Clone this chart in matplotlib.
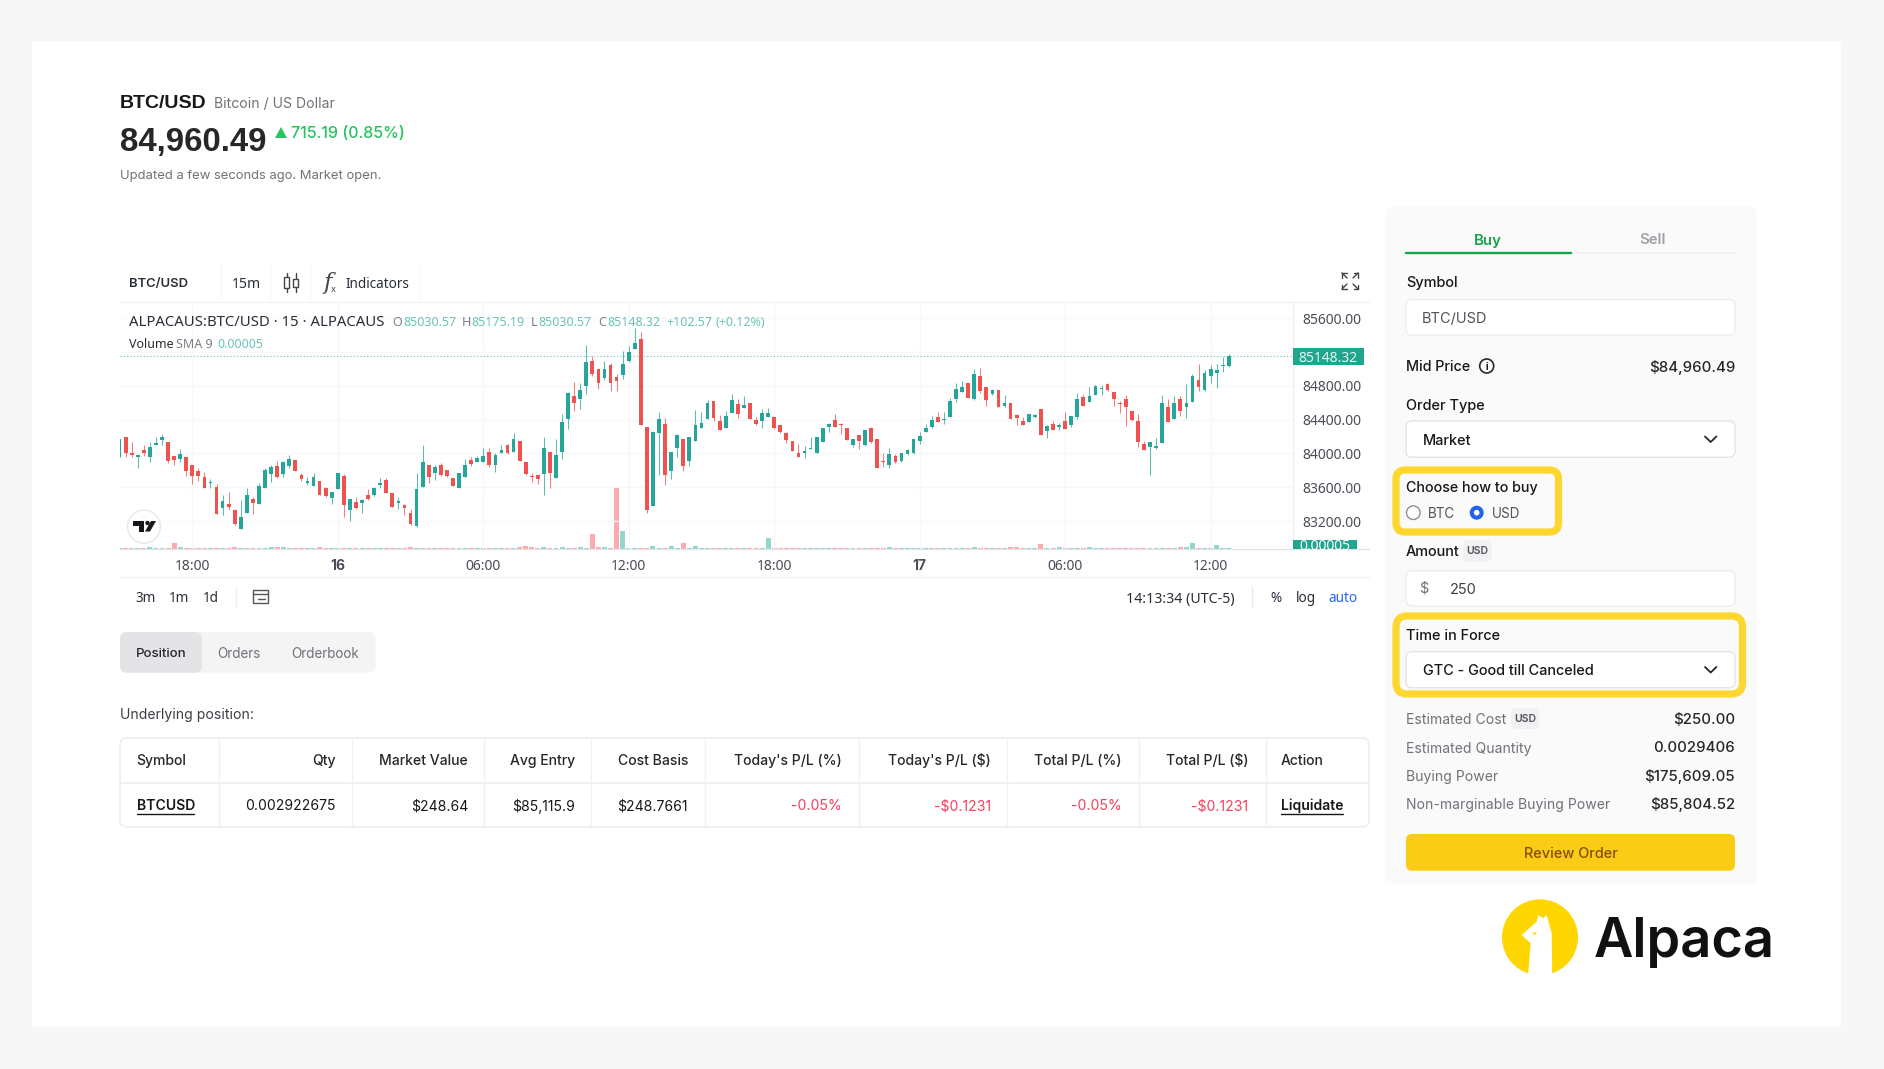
"""Alpaca BTC/USD trading screen: candle chart plus order panel."""
import matplotlib
matplotlib.use("Agg")
import matplotlib.pyplot as plt
from matplotlib.patches import Circle, FancyBboxPatch, Polygon, Rectangle
from matplotlib.transforms import blended_transform_factory

W, H = 1884, 1069

# 15 minute candles
opens = [
    83961, 84190, 84000, 83961, 84044, 83953, 84095, 84158, 84130, 83969,
    83933, 83957, 83862, 83787, 83720, 83649, 83606, 83349, 83401, 83330,
    83109, 83290, 83460, 83401, 83590, 83752, 83854, 83760, 83854, 83921,
    83748, 83653, 83618, 83673, 83586, 83476, 83582, 83732, 83334, 83425,
    83417, 83507, 83503, 83629, 83685, 83527, 83417, 83389, 83290, 83140,
    83606, 83862, 83772, 83862, 83803, 83708, 83586, 83724, 83921, 83902,
    83894, 84016, 83862, 84008, 84095, 84016, 84142, 83894, 83736, 83744,
    83752, 84016, 83704, 84016, 84403, 84675, 84643, 84793, 85097, 84994,
    84896, 85050, 84904, 84927, 85089, 85239, 85353, 84312, 83377, 84245,
    84351, 83795, 84063, 84174, 83910, 84150, 84304, 84411, 84620, 84383,
    84304, 84478, 84584, 84537, 84592, 84391, 84383, 84430, 84430, 84332,
    84237, 84142, 84004, 84008, 84052, 84008, 84134, 84316, 84399, 84347,
    84304, 84099, 84217, 84095, 84304, 84170, 83906, 83866, 83969, 83906,
    83988, 84000, 84142, 84257, 84308, 84426, 84399, 84430, 84639, 84726,
    84829, 84639, 84912, 84789, 84699, 84750, 84557, 84600, 84454, 84387,
    84375, 84426, 84521, 84269, 84347, 84312, 84387, 84336, 84430, 84663,
    84612, 84691, 84766, 84817, 84722, 84600, 84639, 84501, 84379, 84111,
    84079, 84063, 84126, 84553, 84411, 84647, 84545, 84612, 84868, 84750,
    84915, 84947, 85030, 85030.57,
]
highs = [
    84166, 84190, 84130, 83980, 84095, 84130, 84198, 84225, 84130, 83969,
    84052, 83957, 83862, 83823, 83783, 83697, 83637, 83507, 83547, 83330,
    83444, 83586, 83480, 83645, 83823, 83862, 83913, 83906, 83980, 83921,
    83772, 83724, 83772, 83673, 83598, 83547, 83764, 83756, 83460, 83480,
    83456, 83574, 83598, 83708, 83712, 83527, 83480, 83401, 83342, 83764,
    84099, 83862, 83862, 83882, 83803, 83708, 83768, 83929, 83953, 83969,
    84059, 84067, 84008, 84103, 84111, 84237, 84142, 83894, 83772, 83744,
    84198, 84016, 84166, 84466, 84726, 84848, 84829, 85282, 85152, 84994,
    85089, 85073, 84943, 85215, 85275, 85484, 85432, 84312, 84253, 84490,
    84418, 84016, 84229, 84174, 84190, 84513, 84490, 84632, 84620, 84454,
    84505, 84702, 84647, 84679, 84592, 84426, 84529, 84537, 84430, 84332,
    84253, 84142, 84115, 84087, 84198, 84198, 84296, 84359, 84466, 84363,
    84304, 84166, 84217, 84272, 84312, 84170, 84000, 84059, 83992, 84008,
    84052, 84170, 84253, 84347, 84438, 84493, 84490, 84651, 84837, 84856,
    84829, 84994, 85010, 84789, 84758, 84750, 84687, 84600, 84466, 84434,
    84462, 84462, 84521, 84332, 84387, 84363, 84493, 84438, 84710, 84699,
    84789, 84805, 84805, 84829, 84722, 84616, 84695, 84501, 84466, 84142,
    84134, 84182, 84687, 84647, 84679, 84679, 84817, 84939, 85058, 84987,
    85046, 85058, 85144, 85175.19,
]
lows = [
    83961, 83961, 83961, 83831, 83969, 83894, 84095, 84095, 83882, 83862,
    83894, 83736, 83637, 83673, 83590, 83594, 83282, 83271, 83330, 83152,
    83109, 83290, 83282, 83401, 83590, 83665, 83704, 83720, 83823, 83787,
    83677, 83625, 83614, 83507, 83488, 83401, 83574, 83243, 83203, 83342,
    83290, 83448, 83499, 83594, 83527, 83361, 83338, 83271, 83152, 83132,
    83606, 83653, 83685, 83736, 83724, 83614, 83586, 83724, 83854, 83898,
    83894, 83842, 83779, 84004, 83992, 84016, 83910, 83744, 83661, 83634,
    83503, 83594, 83704, 83933, 84292, 84505, 84525, 84706, 84915, 84762,
    84868, 84734, 84734, 84876, 85081, 85239, 84336, 83298, 83377, 83748,
    83626, 83700, 83953, 83791, 83854, 84150, 84296, 84407, 84387, 84277,
    84300, 84474, 84418, 84533, 84403, 84340, 84296, 84426, 84292, 84245,
    84126, 84028, 83953, 83941, 84048, 84004, 84130, 84257, 84308, 84229,
    84158, 84079, 84055, 84091, 84126, 83831, 83835, 83831, 83890, 83902,
    83984, 83996, 84111, 84253, 84304, 84371, 84347, 84426, 84612, 84722,
    84655, 84635, 84714, 84560, 84695, 84553, 84553, 84403, 84336, 84336,
    84371, 84422, 84217, 84182, 84277, 84280, 84284, 84312, 84403, 84557,
    84608, 84687, 84687, 84742, 84560, 84482, 84324, 84387, 84079, 84040,
    83740, 84052, 84126, 84371, 84407, 84442, 84418, 84608, 84742, 84742,
    84829, 84773, 84967, 85022,
]
closes = [
    84166, 84008, 83976, 83980, 84000, 84071, 84119, 84198, 83906, 83921,
    83988, 83795, 83736, 83736, 83590, 83661, 83282, 83440, 83365, 83164,
    83247, 83507, 83417, 83614, 83803, 83835, 83720, 83898, 83929, 83791,
    83693, 83669, 83720, 83511, 83492, 83547, 83764, 83389, 83460, 83349,
    83448, 83456, 83594, 83649, 83535, 83361, 83440, 83349, 83164, 83578,
    83894, 83720, 83835, 83744, 83736, 83618, 83768, 83862, 83874, 83941,
    83969, 83862, 83980, 84036, 84000, 84166, 83914, 83752, 83724, 83701,
    84063, 83764, 83980, 84371, 84718, 84592, 84746, 85077, 84939, 84833,
    85002, 84833, 84852, 85058, 85203, 85306, 84336, 83330, 84253, 84407,
    83740, 84016, 84217, 83854, 84190, 84332, 84359, 84600, 84418, 84280,
    84438, 84632, 84466, 84568, 84403, 84344, 84474, 84474, 84296, 84249,
    84158, 84032, 83961, 84028, 84063, 84190, 84296, 84351, 84312, 84332,
    84162, 84166, 84142, 84272, 84138, 83831, 83898, 83996, 83894, 84000,
    84040, 84170, 84205, 84300, 84391, 84375, 84407, 84616, 84762, 84789,
    84659, 84935, 84738, 84632, 84750, 84553, 84600, 84411, 84418, 84340,
    84462, 84454, 84221, 84328, 84280, 84340, 84288, 84438, 84639, 84560,
    84683, 84801, 84773, 84746, 84639, 84588, 84545, 84399, 84134, 84044,
    84130, 84083, 84592, 84375, 84600, 84497, 84592, 84915, 84789, 84955,
    85002, 84983, 85042, 85148.32,
]
# volume in units of 0.00001 BTC
volumes = [
    6, 6, 6, 6, 6, 10, 6, 6, 6, 38,
    10, 6, 6, 6, 6, 6, 6, 6, 6, 10,
    6, 6, 6, 6, 6, 10, 10, 10, 6, 6,
    6, 8, 6, 14, 6, 6, 8, 6, 6, 6,
    6, 6, 6, 6, 6, 6, 8, 6, 14, 6,
    8, 6, 6, 6, 6, 6, 6, 6, 6, 6,
    6, 6, 6, 6, 6, 6, 12, 16, 10, 6,
    10, 6, 6, 14, 6, 6, 12, 6, 88, 10,
    14, 6, 370, 108, 6, 6, 6, 6, 16, 6,
    8, 18, 6, 34, 6, 18, 6, 6, 6, 6,
    6, 6, 6, 6, 6, 6, 6, 68, 6, 6,
    6, 6, 6, 6, 6, 6, 6, 6, 6, 6,
    6, 6, 6, 6, 6, 6, 6, 10, 6, 6,
    6, 6, 6, 6, 6, 6, 6, 6, 6, 6,
    6, 14, 6, 6, 6, 6, 6, 10, 10, 6,
    6, 6, 30, 6, 6, 12, 6, 6, 6, 6,
    10, 6, 6, 6, 6, 6, 6, 6, 8, 6,
    6, 6, 6, 6, 6, 10, 10, 38, 8, 6,
    6, 24, 6, 6,
]
last_price = 85148.32
price_ticks = [83200, 83600, 84000, 84400, 84800, 85200, 85600]
time_ticks = [12, 36, 60, 84, 108, 132, 156, 180]
time_labels = ["18:00", "16", "06:00", "12:00", "18:00", "17", "06:00", "12:00"]

table_header = ["Symbol", "Qty", "Market Value", "Avg Entry", "Cost Basis",
                "Today's P/L (%)", "Today's P/L ($)", "Total P/L (%)", "Total P/L ($)", "Action"]
table_row = ["BTCUSD", "0.002922675", "$248.64", "$85,115.9", "$248.7661",
             "-0.05%", "-$0.1231", "-0.05%", "-$0.1231", "Liquidate"]
summary_labels = ["Estimated Cost", "Estimated Quantity", "Buying Power", "Non-marginable Buying Power"]
summary_values = ["$250.00", "0.0029406", "$175,609.05", "$85,804.52"]

TEAL = "#26a69a"
RED = "#ef5350"
TEAL_SOFT = "#93d6cb"
RED_SOFT = "#fbaab0"
DARK = "#18181b"
GREY = "#71717a"
CHART_TXT = "#4a4d57"
LINE = "#ececee"
YELLOW = "#fdd730"
UI_FONT = ["Inter", "DejaVu Sans"]
TV_FONT = ["Noto Sans", "DejaVu Sans"]
TIGHT_FONT = ["Liberation Sans", "DejaVu Sans"]

fig = plt.figure(figsize=(W / 100, H / 100), dpi=100, facecolor="#f7f7f7")

# whole-figure axes in pixels for the page around the chart
ui = fig.add_axes([0, 0, 1, 1], zorder=0)
ui.set_xlim(0, W)
ui.set_ylim(H, 0)
ui.axis("off")


def text(x, y, s, px=14, color=DARK, weight="normal", ha="left", family=UI_FONT, **kw):
    return ui.text(x, y, s, fontsize=px * 0.72, color=color, fontweight=weight, ha=ha,
                   va="center_baseline", family=family, **kw)


def box(x0, y0, x1, y1, r=6, fc="white", ec="none", lw=1.0, z=1):
    p = FancyBboxPatch((x0 + r, y0 + r), x1 - x0 - 2 * r, y1 - y0 - 2 * r,
                       boxstyle=f"round,pad={r},rounding_size={r}", fc=fc, ec=ec, lw=lw, zorder=z)
    ui.add_patch(p)
    return p


def line(xs, ys, color=LINE, lw=1.0, z=1, **kw):
    ui.plot(xs, ys, color=color, lw=lw, zorder=z, solid_capstyle="round", **kw)


ui.add_patch(Rectangle((32, 42), 1809, 985, fc="white", ec="none", zorder=0))

# page header
text(120, 101, "BTC/USD", px=19.5, weight="bold", family=TIGHT_FONT)
text(214, 102.5, "Bitcoin / US Dollar", px=14, color=GREY)
text(120, 139, "84,960.49", px=33, weight="bold", color="#27272a", family=TIGHT_FONT)
ui.add_patch(Polygon([(275, 138), (287, 138), (281, 127)], fc="#22c55e", ec="none"))
text(291, 132, "715.19 (0.85%)", px=16, color="#22c55e", weight="medium")
text(120, 175, "Updated a few seconds ago. Market open.", px=13, color=GREY)

# chart toolbar
text(129.5, 282, "BTC/USD", px=13, weight="semibold", color="#2a2e39")
text(232, 282, "15m", px=14, family=TV_FONT, color="#2a2e39")
text(346, 282, "Indicators", px=13.5, family=TV_FONT, color="#2a2e39")
for sx in [221, 270, 310, 420]:
    line([sx, sx], [262, 300], color="#f9f9fa")
line([120, 1369], [302, 302], color="#f4f4f6")
for cx, y0, y1 in [(286.5, 277, 288), (295.5, 279, 287)]:
    ui.add_patch(Rectangle((cx - 2.5, y0), 5, y1 - y0, fc="white", ec="#444", lw=1.0, zorder=2))
    line([cx, cx], [273, 292], color="#444", lw=1.0)
text(323, 281, "f", px=23, family=["DejaVu Serif"], style="italic", color="#444")
text(331, 289, "x", px=9, color="#444")
# expand icon
ex, ey = 1350, 281
for sx, sy in [(-1, -1), (1, -1), (-1, 1), (1, 1)]:
    line([ex + sx * 8, ex + sx * 3], [ey + sy * 8, ey + sy * 3], color="#444", lw=1.0)
    line([ex + sx * 8, ex + sx * 8], [ey + sy * 8, ey + sy * 3.5], color="#444", lw=1.0)
    line([ex + sx * 8, ex + sx * 3.5], [ey + sy * 8, ey + sy * 8], color="#444", lw=1.0)

# chart axes placed on the pixel grid of the screenshot
left, right, top, bottom = 120, 1292.7, 302, 549
ax = fig.add_axes([left / W, 1 - bottom / H, (right - left) / W, (bottom - top) / H], zorder=2)
ax.patch.set_alpha(0)
ax.set_xlim(0.07, 193.54)
ax.set_ylim(82869, 85792)
ax.set_yticks(price_ticks, [f"{p:.2f}" for p in price_ticks])
ax.set_xticks(time_ticks, time_labels)
ax.grid(color="#f6f7f9", lw=0.9)
ax.set_axisbelow(True)
for side in ("top", "left"):
    ax.spines[side].set_visible(False)
ax.spines["right"].set_color("#eceef2")
ax.spines["bottom"].set_color("#e0e3eb")
ax.spines["bottom"].set_linewidth(0.9)

# volume shares the x axis, scale is its own
vax = ax.twinx()
vax.set_ylim(0, 1482)
vax.axis("off")
idx = list(range(len(closes)))
up = [c >= o for o, c in zip(opens, closes)]
vax.bar(idx, volumes, width=0.82, color=[TEAL_SOFT if u else RED_SOFT for u in up], lw=0)

# twinx moves the ticks back to the left, so set them up here
ax.yaxis.tick_right()
ax.tick_params(length=0, labelsize=10, labelcolor=CHART_TXT)
ax.tick_params(axis="y", pad=7)
ax.tick_params(axis="x", pad=7)
for lab in ax.get_xticklabels() + ax.get_yticklabels():
    lab.set_family(TV_FONT)
for lab in ax.get_xticklabels():
    if lab.get_text() in ("16", "17"):
        lab.set_family(UI_FONT)
        lab.set_fontweight("bold")

ax.set_zorder(3)
vax.set_zorder(2)
ax.vlines(idx, lows, highs, colors=[TEAL if u else RED for u in up], lw=0.75, alpha=0.75, zorder=3)
ax.bar(idx, [c - o for o, c in zip(opens, closes)], bottom=opens, width=0.62,
       color=[TEAL if u else RED for u in up], lw=0, zorder=4)
ax.axhline(last_price, color=TEAL, lw=0.8, ls=(0, (1, 2)), alpha=0.7, zorder=2)

# tags on the price axis
tr = blended_transform_factory(ax.transAxes, ax.transData)
ax.add_patch(Rectangle((1, last_price - 98), 71.3 / (right - left), 197, transform=tr,
                       fc="#20a58f", ec="none", clip_on=False, zorder=6))
ax.text(1 + 35.6 / (right - left), last_price, f"{last_price:.2f}", transform=tr, color="#e8f6f3",
        fontsize=10, family=TV_FONT, ha="center", va="center_baseline", zorder=7)
vol_tag = Rectangle((1, 82869), 64.3 / (right - left), 106, transform=tr,
                    fc="#20a58f", ec="none", clip_on=False, zorder=6)
ax.add_patch(vol_tag)
vt = ax.text(1 + 32 / (right - left), 82895, "0.00005", transform=tr, color="white",
             fontsize=10, family=TV_FONT, ha="center", va="center", zorder=7)
vt.set_clip_path(vol_tag)
line([right, 1369], [549, 549], color="#e0e3eb")

# top overlay for legend lines and the TV badge
ov = fig.add_axes([0, 0, 1, 1], zorder=5)
ov.set_xlim(0, W)
ov.set_ylim(H, 0)
ov.axis("off")
ov.patch.set_alpha(0)


def otext(x, y, s, px=13, color=CHART_TXT, weight="normal", ha="left"):
    ov.text(x, y, s, fontsize=px * 0.72, color=color, fontweight=weight, ha=ha,
            va="center_baseline", family=TV_FONT)


otext(129, 320, "ALPACAUS:BTC/USD · 15 · ALPACAUS", px=14.9, color="#2a2e39")
for lx, vx, letter, val in [(392, 403, "O", "85030.57"), (461.5, 471, "H", "85175.19"),
                            (531, 538, "L", "85030.57"), (598, 607, "C", "85148.32")]:
    otext(lx, 320.5, letter, px=12.5, color="#7b7f8a")
    otext(vx, 320.5, val, px=12.5, color="#6cc4b8")
otext(666, 320.5, "+102.57", px=12.5, color="#6cc4b8")
otext(716, 320.5, "(+0.12%)", px=12.5, color="#6cc4b8")
otext(129, 343, "Volume", px=12.5, color="#2a2e39")
otext(176, 343, "SMA 9", px=12.5, color="#7b7f8a")
otext(217, 343, "0.00005", px=12.5, color="#6cc4b8")

ov.add_patch(Circle((144, 526.7), 16.5, fc="white", ec="#e8e8ea", lw=1.0, zorder=3))
ov.add_patch(Polygon([(133, 521), (144, 521), (144, 531.5), (139, 531.5), (139, 525.5), (133, 525.5)],
                     fc="#17181c", ec="none", zorder=4))
ov.add_patch(Circle((147.5, 523), 2.2, fc="#17181c", ec="none", zorder=4))
ov.add_patch(Polygon([(151, 521), (156, 521), (150, 531.5), (145, 531.5)], fc="#17181c", ec="none", zorder=4))

# range bar under the chart
line([120, 1369], [577, 577], color="#f4f4f6")
for tx, lab in [(145.5, "3m"), (179, "1m"), (211, "1d")]:
    text(tx, 597, lab, px=13.5, ha="center", family=TV_FONT, color="#2a2e39")
line([236, 236], [587, 607], color="#f0f0f2")
ui.add_patch(Rectangle((253, 590), 15, 13, fc="none", ec="#555", lw=1.0, zorder=2))
line([253, 268], [594, 594], color="#555")
line([258, 265], [598.5, 598.5], color="#555")
text(1235, 597, "14:13:34 (UTC-5)", px=14.2, ha="right", family=TV_FONT, color="#2a2e39")
line([1252, 1252], [587, 607], color="#e8e8ea")
text(1276, 597, "%", px=13.5, ha="center", family=TV_FONT, color="#2a2e39")
text(1306, 597, "log", px=13.5, ha="center", family=TV_FONT, color="#2a2e39")
text(1343, 597, "auto", px=13.5, ha="center", family=TV_FONT, color="#2962ff")

# tabs
box(120, 632, 375.6, 672.7, r=7, fc="#f4f4f5")
box(120, 632, 202, 672.7, r=7, fc="#e4e4e7", z=2)
text(161, 652.5, "Position", px=13.3, ha="center", weight="medium", color="#27272a", zorder=3)
text(239, 652, "Orders", px=13.5, ha="center", color=GREY, zorder=3)
text(325, 652, "Orderbook", px=13.5, ha="center", color=GREY, zorder=3)

# position table
text(120, 714, "Underlying position:", px=14, color="#3f3f46")
box(120, 738, 1369, 827, r=7, fc="white", ec="#eeeeef", lw=1.2)
line([120, 1369], [782.7, 782.7], color="#eeeeef", lw=1.2)
for cx in [218.5, 352, 484, 591, 705, 859, 1007, 1139, 1265.5]:
    line([cx, cx], [738.5, 826.5], color="#f1f1f2")
col_x = [136.5, 336, 468, 575, 688, 842, 991, 1122, 1248.5, 1281]
for i, (cx, head, val) in enumerate(zip(col_x, table_header, table_row)):
    ha = "left" if i in (0, 9) else "right"
    text(cx, 759.5, head, px=14, ha=ha, color="#27272a", weight="medium")
    col = "#f43f5e" if val.startswith("-") else DARK
    edge = i in (0, 9)
    text(cx, 804.5, val, px=14, ha=ha, color=col, weight="semibold" if edge else "normal")
line([137, 194], [814, 814], color=DARK, lw=1.0, z=3)
line([1281, 1343], [814, 814], color=DARK, lw=1.0, z=3)

# order panel
box(1385, 206, 1756.7, 900, r=10, fc="#fafafa")
ui.add_patch(Rectangle((1380, 884), 385, 30, fc="white", ec="none", zorder=1))
line([1406, 1735], [252.5, 252.5], color="#f0f0f4", lw=1.4, z=2)
line([1406, 1570.7], [252.5, 252.5], color="#16a34a", lw=1.7, z=3)
text(1488, 239, "Buy", px=15, ha="center", weight="semibold", color="#16a34a")
text(1653, 239, "Sell", px=15, ha="center", weight="semibold", color="#a1a1aa")

text(1406, 282, "Symbol", px=14.5, weight="medium", zorder=3)
box(1406, 299.5, 1735, 335, r=6, fc="white", ec="#ededee", z=2)
text(1421.7, 317.5, "BTC/USD", px=14.5, color="#52525b", zorder=3)

text(1406, 365.5, "Mid Price", px=14.3, weight="medium", zorder=3)
ui.add_patch(Circle((1486.7, 366), 7, fc="none", ec="#27272a", lw=1.2, zorder=3))
text(1486.7, 366, "i", px=10, ha="center", weight="bold", zorder=3)
text(1735, 366, "$84,960.49", px=15, ha="right", weight="medium", color="#27272a", zorder=3)

text(1406, 404.5, "Order Type", px=14.5, weight="medium", zorder=3)
box(1406, 421, 1735, 457.3, r=6, fc="white", ec="#e4e4e7", z=2)
text(1422.7, 439.5, "Market", px=14.5, weight="medium", zorder=3)
line([1705, 1710.7, 1716.4], [436.5, 442, 436.5], color="#27272a", lw=1.3, z=3)

# yellow callouts
box(1396, 470, 1558.5, 532, r=9, fc="none", ec=YELLOW, lw=5.2, z=4)
box(1396, 616, 1742.5, 694, r=11, fc="none", ec=YELLOW, lw=5.2, z=4)

text(1406, 486.7, "Choose how to buy", px=14.3, weight="medium", zorder=3)
ui.add_patch(Circle((1413.3, 512.7), 6.8, fc="white", ec="#8d8d95", lw=1.0, zorder=3))
text(1428.3, 512, "BTC", px=13.5, color="#52525b", zorder=3)
ui.add_patch(Circle((1476.7, 512.7), 7, fc="#2563eb", ec="none", zorder=3))
ui.add_patch(Circle((1476.7, 512.7), 2.8, fc="white", ec="none", zorder=4))
text(1491.7, 512, "USD", px=13.5, color="#52525b", zorder=3)

text(1406, 551, "Amount", px=14.5, weight="medium", zorder=3)
box(1463, 540, 1491.7, 561.7, r=5, fc="#f1f1f3", z=2)
text(1477.4, 550.5, "USD", px=10.5, ha="center", weight="semibold", color="#52525b", zorder=3)
box(1406, 570.7, 1735, 606, r=6, fc="white", ec="#ededee", z=2)
text(1424.3, 587.5, "$", px=14.5, ha="center", color=GREY, zorder=3)
text(1450, 588.5, "250", px=14.5, color="#3f3f46", zorder=3)

text(1406, 635, "Time in Force", px=14.5, weight="medium", zorder=3)
box(1406, 651.7, 1735, 687.7, r=6, fc="white", ec="#e4e4e7", z=2)
text(1422.7, 669.5, "GTC - Good till Canceled", px=14.5, weight="medium", zorder=3)
line([1705, 1710.7, 1716.4], [667, 672.5, 667], color="#27272a", lw=1.3, z=3)

for yy, lab, val in zip([719, 747, 775.5, 803.5], summary_labels, summary_values):
    text(1406, yy, lab, px=14, color=GREY, zorder=3)
    text(1735, yy, val, px=15, ha="right", weight="medium", color="#27272a", zorder=3)
box(1511, 708, 1539.3, 729, r=5, fc="#f1f1f3", z=2)
text(1525.2, 718.5, "USD", px=10.5, ha="center", weight="semibold", color="#52525b", zorder=3)

box(1406, 834, 1735, 870.7, r=6, fc="#facc15", z=2)
text(1570.5, 853, "Review Order", px=14.5, ha="center", weight="medium", color="#854d0e", zorder=3)

# Alpaca logo
ui.add_patch(Circle((1540, 937.3), 38, fc="#ffd600", ec="none", zorder=2))
ui.add_patch(Polygon([(1527.5, 982), (1530.7, 943.3), (1521.7, 935), (1536.7, 921.7), (1538.3, 915),
                      (1543.3, 918.3), (1546.7, 915), (1551.7, 933.3), (1552.3, 982)],
                     fc="white", ec="none", zorder=3))
ui.add_patch(Polygon([(1532, 933), (1537, 932), (1535, 935)], fc="#ffd600", ec="none", zorder=4))
ui.text(1594, 957, "Alpaca", fontsize=39, fontweight="semibold", color="#111111", family=UI_FONT,
        ha="left", va="baseline", zorder=3)

fig.savefig("out.png", dpi=100, facecolor=fig.get_facecolor())
